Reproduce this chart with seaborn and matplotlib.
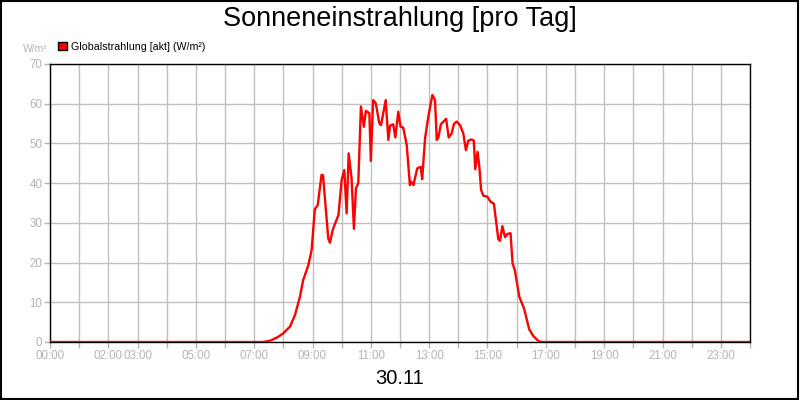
import pandas as pd
import seaborn as sns
import matplotlib.pyplot as plt
from matplotlib.patches import Patch, Rectangle

# time of day in hours, global radiation in W/m²
hours = [0.0, 7.3, 7.54, 7.8, 8.0, 8.23, 8.4, 8.57, 8.68, 8.86, 8.97, 9.08, 9.18,
         9.31, 9.36, 9.54, 9.6, 9.69, 9.89, 10.0, 10.09, 10.17, 10.24, 10.34,
         10.42, 10.49, 10.57, 10.66, 10.76, 10.83, 10.95, 11.0, 11.08, 11.17,
         11.29, 11.35, 11.51, 11.6, 11.66, 11.77, 11.84, 11.94, 12.02, 12.11,
         12.23, 12.34, 12.38, 12.42, 12.46, 12.59, 12.71, 12.76, 12.86, 12.97,
         13.11, 13.2, 13.26, 13.31, 13.4, 13.58, 13.67, 13.77, 13.85, 13.94,
         14.06, 14.17, 14.26, 14.34, 14.46, 14.53, 14.58, 14.66, 14.72, 14.78,
         14.86, 14.99, 15.11, 15.22, 15.29, 15.37, 15.43, 15.51, 15.6, 15.68,
         15.79, 15.86, 15.94, 16.09, 16.25, 16.43, 16.57, 16.74, 16.86, 24.0]
radiation = [0, 0, 0.3, 1.2, 2.2, 3.9, 6.8, 11.4, 15.6, 19.4, 23.2, 33.4, 34.5,
             42.1, 42.0, 26.1, 25.0, 28.2, 32.0, 40.8, 43.3, 32.4, 47.5, 41.2,
             28.5, 38.7, 40.0, 59.3, 54.2, 58.2, 57.6, 45.6, 60.9, 60.1,
             55.1, 54.6, 60.9, 50.9, 54.5, 54.8, 51.5, 58.0, 54.2, 54.0,
             49.6, 39.5, 40.4, 40.0, 39.5, 43.7, 44.1, 41.0, 51.3, 56.7,
             62.2, 60.9, 50.9, 51.3, 54.8, 56.2, 51.5, 52.5, 54.9, 55.5,
             54.6, 52.5, 48.3, 50.7, 51.0, 50.7, 43.5, 47.9, 44.1, 38.3,
             36.8, 36.6, 35.3, 34.8, 30.7, 25.9, 25.5, 29.2, 26.4, 27.2,
             27.4, 19.8, 18.0, 11.4, 8.5, 3.2, 1.5, 0.3, 0, 0]

tick_hours = [0, 2, 3, 5, 7, 9, 11, 13, 15, 17, 19, 21, 23]
tick_labels = ["00:00", "02:00", "03:00", "05:00", "07:00", "09:00", "11:00",
               "13:00", "15:00", "17:00", "19:00", "21:00", "23:00"]
y_ticks = [0, 10, 20, 30, 40, 50, 60, 70]

sns.set_style("white")
plt.rcParams["font.family"] = ["Liberation Sans", "DejaVu Sans"]
plt.rcParams["text.color"] = "black"

grey = "#b4b4b4"
df = pd.DataFrame({"hour": hours, "value": radiation})

fig = plt.figure(figsize=(8, 4), dpi=100)
ax = fig.add_axes([0.0625, 0.145, 0.875, 0.695])
sns.lineplot(data=df, x="hour", y="value", color="#ff0000", linewidth=1.7,
             estimator=None, ax=ax, zorder=3)

ax.set_xlim(0, 24)
ax.set_ylim(0, 70)
ax.set_xticks(range(0, 25))
ax.set_xticklabels([tick_labels[tick_hours.index(h)] if h in tick_hours else ""
                    for h in range(0, 25)])
ax.set_yticks(y_ticks)
ax.grid(True, color="#c0c0c0", linewidth=1)
ax.tick_params(colors=grey, labelcolor=grey, labelsize=8.3, length=4, width=1,
               pad=1.5, bottom=True, left=True)
for s in ax.spines.values():
    s.set_color("black")
    s.set_linewidth(1)
ax.set_xlabel("")
ax.set_ylabel("")

fig.text(0.5, 0.953, "Sonneneinstrahlung [pro Tag]", ha="center", va="center",
         fontsize=19.5, color="black")
fig.text(0.5, 0.055, "30.11", ha="center", va="center", fontsize=14.5,
         color="black")
fig.text(0.06, 0.878, "W/m²", ha="right", va="center", fontsize=7.5, color=grey)

ax.legend(handles=[Patch(facecolor="#ff0000", edgecolor="black")],
          labels=["Globalstrahlung [akt] (W/m²)"], loc="lower left",
          bbox_to_anchor=(0.073, 0.87), bbox_transform=fig.transFigure,
          frameon=False, fontsize=7.7, handlelength=0.8, handleheight=0.8,
          handletextpad=0.4, borderpad=0, borderaxespad=0, labelcolor="black")

fig.add_artist(Rectangle((0.001, 0.002), 0.997, 0.996, transform=fig.transFigure,
                         fill=False, edgecolor="black", linewidth=1.5))

fig.savefig("out.png", dpi=100)
